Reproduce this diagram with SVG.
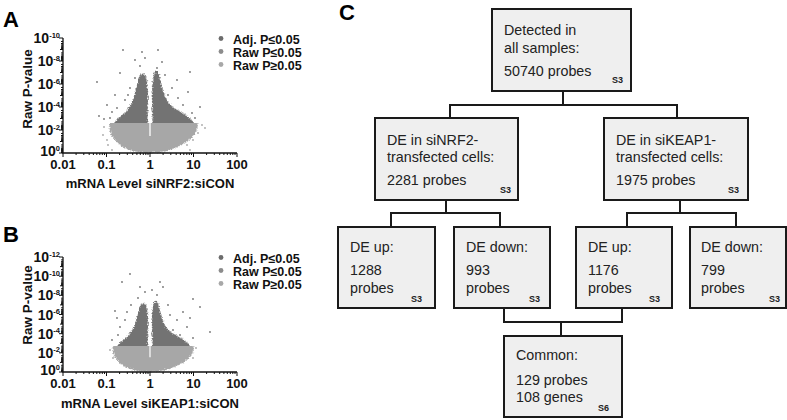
<svg xmlns="http://www.w3.org/2000/svg" xmlns:xlink="http://www.w3.org/1999/xlink" width="787" height="420" viewBox="0 0 787 420">
<style>
.lbl{font-family:"Liberation Sans",Arial,sans-serif;font-weight:bold;fill:#000}
.pl{font-size:22px}
.tl{font-family:"Liberation Sans",Arial,sans-serif;font-weight:bold;font-size:13px;fill:#111}
.yl{font-family:"Liberation Sans",Arial,sans-serif;font-weight:bold;font-size:14px;fill:#111}
.yt{font-family:"Liberation Sans",Arial,sans-serif;font-weight:bold;font-size:13.5px;fill:#111}
.sup{font-size:7.5px}
.lg{font-family:"Liberation Sans",Arial,sans-serif;font-weight:bold;font-size:12.5px;fill:#111}
.axis{stroke:#111;stroke-width:1.3;fill:none}
.tick{stroke:#111;stroke-width:1;fill:none}
.box{fill:#efefef;stroke:#1a1a1a;stroke-width:2}
.bt{font-family:"Liberation Sans",Arial,sans-serif;font-size:14.3px;fill:#222}
.s{font-family:"Liberation Sans",Arial,sans-serif;font-weight:bold;font-size:9px;fill:#222}
.con{fill:none;stroke:#1a1a1a;stroke-width:2}
.dk{fill:#737373}
.lt{fill:#a7a7a7}
</style>
<defs>
<filter id="grain" x="-30%" y="-30%" width="160%" height="160%">
<feMorphology in="SourceGraphic" operator="dilate" radius="4" result="d"/>
<feGaussianBlur in="SourceAlpha" stdDeviation="2.2" result="b"/>
<feTurbulence type="fractalNoise" baseFrequency="0.7" numOctaves="1" seed="5" result="n"/>
<feColorMatrix in="n" type="matrix" values="0 0 0 0 0  0 0 0 0 0  0 0 0 0 0  1 0 0 0 0" result="na"/>
<feComposite in="b" in2="na" operator="arithmetic" k1="0" k2="4" k3="3" k4="-3.3" result="m"/>
<feComposite in="d" in2="m" operator="in"/>
</filter>
<clipPath id="above"><rect x="-80" y="-120" width="160" height="90"/></clipPath>
<clipPath id="below"><rect x="-80" y="-30" width="160" height="31"/></clipPath>
<path id="ydec" class="tick" d="M-2,3.46h2M-2,5.49h2M-2,6.92h2M-2,8.04h2M-2,8.95h2M-2,9.72h2M-2,10.38h2M-2,10.97h2"/>
<path id="xdec" class="tick" d="M13.1,0v2M20.8,0v2M26.2,0v2M30.4,0v2M33.8,0v2M36.8,0v2M39.3,0v2M41.5,0v2"/>
<g id="cloud">
<g clip-path="url(#below)"><path class="lt" filter="url(#grain)" d="M-40,-34 L48,-34 C50,-22 44,-14 32,-8 C24,-3 16,-1 10,0 L-12,0 C-18,-1 -26,-4 -32,-9 C-40,-16 -43,-24 -40,-34 Z"/></g>
<g clip-path="url(#above)">
<path class="dk" filter="url(#grain)" d="M-2,-26 L-40,-26 C-34,-34 -30,-37 -26,-40 C-22,-44 -20,-48 -18,-52 C-15,-60 -13,-70 -11,-78 L-7,-82 L-3,-76 L-1.5,-60 Z"/>
<path class="dk" filter="url(#grain)" d="M2,-26 L48,-26 C42,-34 38,-37 34,-40 C26,-44 20,-48 17,-53 C13,-62 11,-72 9,-80 L6,-86 L3,-80 L1.5,-60 Z"/>
</g>
<path d="M0,-64 V-17" stroke="#fff" stroke-width="1.3"/>
</g>
</defs>

<g id="panelA">
<text class="lbl pl" x="3" y="27">A</text>
<use xlink:href="#cloud" transform="translate(150,153)"/>
<g class="dk">
<circle cx="123" cy="50" r="0.9"/><circle cx="142" cy="52" r="0.9"/><circle cx="158" cy="50" r="0.9"/><circle cx="135" cy="60" r="0.9"/><circle cx="157" cy="68" r="0.9"/><circle cx="97" cy="82" r="0.9"/><circle cx="115" cy="95" r="0.9"/><circle cx="190" cy="72" r="0.9"/><circle cx="188" cy="92" r="0.9"/><circle cx="200" cy="107" r="0.9"/><circle cx="99" cy="116" r="0.9"/><circle cx="107" cy="105" r="0.9"/><circle cx="117" cy="108" r="0.9"/><circle cx="125" cy="100" r="0.9"/><circle cx="177" cy="80" r="0.9"/><circle cx="172" cy="88" r="0.9"/><circle cx="183" cy="105" r="0.9"/><circle cx="192" cy="113" r="0.9"/><circle cx="120" cy="73" r="0.9"/><circle cx="130" cy="88" r="0.9"/><circle cx="128" cy="95" r="0.9"/><circle cx="165" cy="75" r="0.9"/><circle cx="168" cy="95" r="0.9"/><circle cx="178" cy="98" r="0.9"/><circle cx="112" cy="112" r="0.9"/><circle cx="186" cy="117" r="0.9"/><circle cx="195" cy="118" r="0.9"/><circle cx="104" cy="119" r="0.9"/><circle cx="135" cy="78" r="0.9"/><circle cx="140" cy="66" r="0.9"/><circle cx="162" cy="62" r="0.9"/><circle cx="145" cy="58" r="0.9"/><circle cx="132" cy="110" r="0.9"/><circle cx="170" cy="108" r="0.9"/><circle cx="176" cy="112" r="0.9"/><circle cx="122" cy="116" r="0.9"/><circle cx="110" cy="118" r="0.9"/>
</g>
<g class="lt">
<circle cx="107" cy="140" r="0.9"/><circle cx="103" cy="135" r="0.9"/><circle cx="113" cy="132" r="0.9"/><circle cx="202" cy="125" r="0.9"/><circle cx="198" cy="133" r="0.9"/><circle cx="193" cy="140" r="0.9"/><circle cx="108" cy="145" r="0.9"/><circle cx="187" cy="145" r="0.9"/><circle cx="205" cy="128" r="0.9"/><circle cx="112" cy="150" r="0.9"/><circle cx="190" cy="150" r="0.9"/><circle cx="104" cy="127" r="0.9"/>
</g>
<path class="axis" d="M63,38 V153 H237"/>
<path class="tick" d="M59,38h4M59,61h4M59,84h4M59,107h4M59,130h4M59,153h4M60,49.5h3M60,72.5h3M60,95.5h3M60,118.5h3M60,141.5h3"/>
<use xlink:href="#ydec" transform="translate(63,38)"/><use xlink:href="#ydec" transform="translate(63,49.5)"/><use xlink:href="#ydec" transform="translate(63,61)"/><use xlink:href="#ydec" transform="translate(63,72.5)"/><use xlink:href="#ydec" transform="translate(63,84)"/><use xlink:href="#ydec" transform="translate(63,95.5)"/><use xlink:href="#ydec" transform="translate(63,107)"/><use xlink:href="#ydec" transform="translate(63,118.5)"/><use xlink:href="#ydec" transform="translate(63,130)"/><use xlink:href="#ydec" transform="translate(63,141.5)"/>
<path class="tick" d="M63,153v4M106.5,153v4M150,153v4M193.5,153v4M237,153v4"/>
<use xlink:href="#xdec" transform="translate(63,153)"/><use xlink:href="#xdec" transform="translate(106.5,153)"/><use xlink:href="#xdec" transform="translate(150,153)"/><use xlink:href="#xdec" transform="translate(193.5,153)"/>
<g class="yl" text-anchor="end">
<text x="60" y="43">10<tspan class="sup" dy="-5.5">-10</tspan></text>
<text x="60" y="66">10<tspan class="sup" dy="-5.5">-8</tspan></text>
<text x="60" y="89">10<tspan class="sup" dy="-5.5">-6</tspan></text>
<text x="60" y="112">10<tspan class="sup" dy="-5.5">-4</tspan></text>
<text x="60" y="135">10<tspan class="sup" dy="-5.5">-2</tspan></text>
<text x="60" y="156">10<tspan class="sup" dy="-5.5">0</tspan></text>
</g>
<g class="tl" text-anchor="middle">
<text x="63" y="168.5">0.01</text><text x="106.5" y="168.5">0.1</text><text x="150" y="168.5">1</text><text x="193.5" y="168.5">10</text><text x="237" y="168.5">100</text>
</g>
<text class="tl" text-anchor="middle" x="150" y="188">mRNA Level siNRF2:siCON</text>
<text class="yt" text-anchor="middle" transform="translate(32,89) rotate(-90)">Raw P-value</text>
<circle cx="221" cy="38.5" r="2.4" fill="#6c6c6c"/>
<circle cx="221" cy="51.5" r="2.4" fill="#8c8c8c"/>
<circle cx="221" cy="64.5" r="2.4" fill="#a8a8a8"/>
<text class="lg" x="233" y="44">Adj. P≤0.05</text>
<text class="lg" x="233" y="57">Raw P≤0.05</text>
<text class="lg" x="233" y="70">Raw P≥0.05</text>
</g>

<g id="panelB">
<text class="lbl pl" x="3" y="242">B</text>
<use xlink:href="#cloud" transform="translate(150,372) scale(0.92,0.87)"/>
<g class="dk">
<circle cx="130" cy="274" r="0.9"/><circle cx="122" cy="282" r="0.9"/><circle cx="160" cy="282" r="0.9"/><circle cx="163" cy="287" r="0.9"/><circle cx="140" cy="287" r="0.9"/><circle cx="115" cy="311" r="0.9"/><circle cx="117" cy="318" r="0.9"/><circle cx="193" cy="299" r="0.9"/><circle cx="200" cy="307" r="0.9"/><circle cx="210" cy="332" r="0.9"/><circle cx="183" cy="312" r="0.9"/><circle cx="177" cy="320" r="0.9"/><circle cx="173" cy="330" r="0.9"/><circle cx="187" cy="327" r="0.9"/><circle cx="112" cy="340" r="0.9"/><circle cx="120" cy="327" r="0.9"/><circle cx="127" cy="312" r="0.9"/><circle cx="138" cy="298" r="0.9"/><circle cx="157" cy="295" r="0.9"/><circle cx="193" cy="338" r="0.9"/><circle cx="183" cy="342" r="0.9"/><circle cx="131" cy="305" r="0.9"/><circle cx="125" cy="320" r="0.9"/><circle cx="168" cy="305" r="0.9"/><circle cx="170" cy="315" r="0.9"/><circle cx="180" cy="335" r="0.9"/><circle cx="118" cy="335" r="0.9"/><circle cx="145" cy="292" r="0.9"/><circle cx="152" cy="290" r="0.9"/><circle cx="190" cy="318" r="0.9"/>
</g>
<g class="lt">
<circle cx="117" cy="353" r="0.9"/><circle cx="113" cy="358" r="0.9"/><circle cx="188" cy="352" r="0.9"/><circle cx="193" cy="358" r="0.9"/><circle cx="183" cy="362" r="0.9"/><circle cx="120" cy="363" r="0.9"/><circle cx="110" cy="350" r="0.9"/><circle cx="196" cy="348" r="0.9"/>
</g>
<path class="axis" d="M63,257 V372 H237"/>
<path class="tick" d="M59,257h4M59,276.2h4M59,295.3h4M59,314.5h4M59,333.7h4M59,352.8h4M59,372h4M60,266.6h3M60,285.8h3M60,304.9h3M60,324.1h3M60,343.3h3M60,362.4h3"/>
<g transform="translate(63,0)">
<use xlink:href="#ydec" transform="translate(0,257) scale(1,0.8333)"/><use xlink:href="#ydec" transform="translate(0,266.6) scale(1,0.8333)"/><use xlink:href="#ydec" transform="translate(0,276.2) scale(1,0.8333)"/><use xlink:href="#ydec" transform="translate(0,285.8) scale(1,0.8333)"/><use xlink:href="#ydec" transform="translate(0,295.3) scale(1,0.8333)"/><use xlink:href="#ydec" transform="translate(0,304.9) scale(1,0.8333)"/><use xlink:href="#ydec" transform="translate(0,314.5) scale(1,0.8333)"/><use xlink:href="#ydec" transform="translate(0,324.1) scale(1,0.8333)"/><use xlink:href="#ydec" transform="translate(0,333.7) scale(1,0.8333)"/><use xlink:href="#ydec" transform="translate(0,343.3) scale(1,0.8333)"/><use xlink:href="#ydec" transform="translate(0,352.8) scale(1,0.8333)"/><use xlink:href="#ydec" transform="translate(0,362.4) scale(1,0.8333)"/>
</g>
<path class="tick" d="M63,372v4M106.5,372v4M150,372v4M193.5,372v4M237,372v4"/>
<use xlink:href="#xdec" transform="translate(63,372)"/><use xlink:href="#xdec" transform="translate(106.5,372)"/><use xlink:href="#xdec" transform="translate(150,372)"/><use xlink:href="#xdec" transform="translate(193.5,372)"/>
<g class="yl" text-anchor="end">
<text x="60" y="262">10<tspan class="sup" dy="-5.5">-12</tspan></text>
<text x="60" y="281.2">10<tspan class="sup" dy="-5.5">-10</tspan></text>
<text x="60" y="300.3">10<tspan class="sup" dy="-5.5">-8</tspan></text>
<text x="60" y="319.5">10<tspan class="sup" dy="-5.5">-6</tspan></text>
<text x="60" y="338.7">10<tspan class="sup" dy="-5.5">-4</tspan></text>
<text x="60" y="357.8">10<tspan class="sup" dy="-5.5">-2</tspan></text>
<text x="60" y="375">10<tspan class="sup" dy="-5.5">0</tspan></text>
</g>
<g class="tl" text-anchor="middle">
<text x="63" y="387.5">0.01</text><text x="106.5" y="387.5">0.1</text><text x="150" y="387.5">1</text><text x="193.5" y="387.5">10</text><text x="237" y="387.5">100</text>
</g>
<text class="tl" text-anchor="middle" x="150" y="408">mRNA Level siKEAP1:siCON</text>
<text class="yt" text-anchor="middle" transform="translate(32,305) rotate(-90)">Raw P-value</text>
<circle cx="221" cy="257.5" r="2.4" fill="#6c6c6c"/>
<circle cx="221" cy="270.5" r="2.4" fill="#8c8c8c"/>
<circle cx="221" cy="283.5" r="2.4" fill="#a8a8a8"/>
<text class="lg" x="233" y="263">Adj. P≤0.05</text>
<text class="lg" x="233" y="276">Raw P≤0.05</text>
<text class="lg" x="233" y="289">Raw P≥0.05</text>
</g>

<text class="lbl pl" x="339" y="20" id="labelC">C</text>

<g id="connectors">
<path class="con" d="M563,91 V105"/>
<path class="con" d="M450,118 V105 H677 V118"/>
<path class="con" d="M446,200 V213"/>
<path class="con" d="M391,227 V213 H500 V227"/>
<path class="con" d="M680,200 V213"/>
<path class="con" d="M627,227 V213 H736 V227"/>
<path class="con" d="M504,308 V322 H622 V308"/>
<path class="con" d="M561,322 V336"/>
</g>

<g id="detected">
<rect class="box" x="492" y="9" width="139" height="82"/>
<text class="bt" x="504" y="35">Detected in</text>
<text class="bt" x="504" y="53">all samples:</text>
<text class="bt" x="504" y="76">50740 probes</text>
<text class="s" x="623" y="83" text-anchor="end">S3</text>
</g>
<g id="deNRF2">
<rect class="box" x="375" y="118" width="143" height="82"/>
<text class="bt" x="387" y="145">DE in siNRF2-</text>
<text class="bt" x="387" y="162">transfected cells:</text>
<text class="bt" x="387" y="185">2281 probes</text>
<text class="s" x="511" y="192.5" text-anchor="end">S3</text>
</g>
<g id="deKEAP1">
<rect class="box" x="604" y="118" width="144" height="82"/>
<text class="bt" x="616" y="145">DE in siKEAP1-</text>
<text class="bt" x="616" y="162">transfected cells:</text>
<text class="bt" x="616" y="185">1975 probes</text>
<text class="s" x="739" y="192.5" text-anchor="end">S3</text>
</g>
<g id="nrf2Up">
<rect class="box" x="338" y="227" width="97" height="81"/>
<text class="bt" x="350" y="252">DE up:</text>
<text class="bt" x="350" y="275">1288</text>
<text class="bt" x="350" y="293">probes</text>
<text class="s" x="422" y="301.5" text-anchor="end">S3</text>
</g>
<g id="nrf2Down">
<rect class="box" x="454" y="227" width="96" height="81"/>
<text class="bt" x="466" y="252">DE down:</text>
<text class="bt" x="466" y="275">993</text>
<text class="bt" x="466" y="293">probes</text>
<text class="s" x="540" y="301.5" text-anchor="end">S3</text>
</g>
<g id="keap1Up">
<rect class="box" x="576" y="227" width="96" height="81"/>
<text class="bt" x="588" y="252">DE up:</text>
<text class="bt" x="588" y="275">1176</text>
<text class="bt" x="588" y="293">probes</text>
<text class="s" x="660" y="301.5" text-anchor="end">S3</text>
</g>
<g id="keap1Down">
<rect class="box" x="690" y="227" width="96" height="81"/>
<text class="bt" x="701" y="252">DE down:</text>
<text class="bt" x="701" y="275">799</text>
<text class="bt" x="701" y="293">probes</text>
<text class="s" x="780" y="301.5" text-anchor="end">S3</text>
</g>
<g id="common">
<rect class="box" x="504" y="336" width="118" height="81"/>
<text class="bt" x="516" y="360">Common:</text>
<text class="bt" x="516" y="385">129 probes</text>
<text class="bt" x="516" y="402">108 genes</text>
<text class="s" x="609" y="411" text-anchor="end">S6</text>
</g>
</svg>
